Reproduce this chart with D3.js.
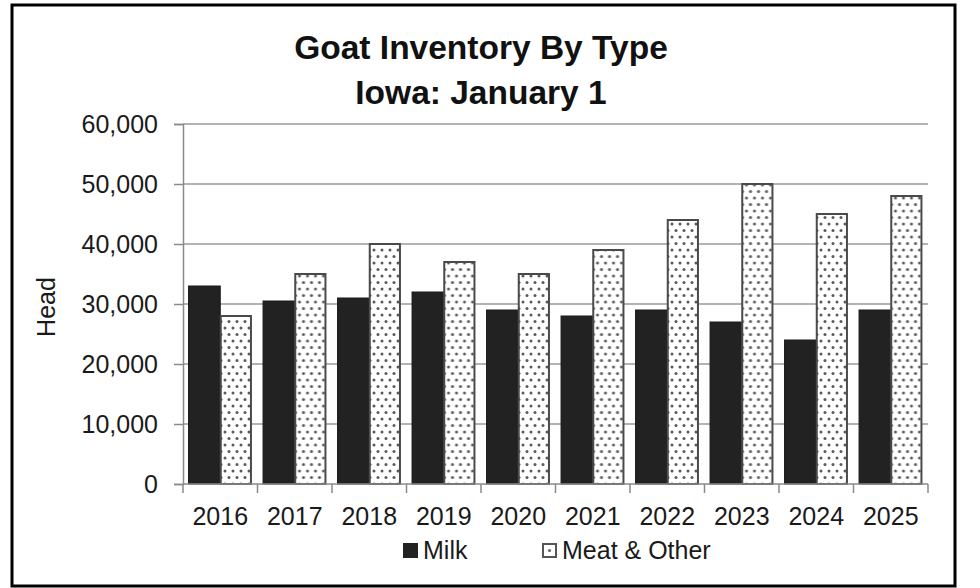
<!DOCTYPE html>
<html>
<head>
<meta charset="utf-8">
<script src="https://cdn.jsdelivr.net/npm/d3@7"></script>
<style>
  html, body { margin: 0; padding: 0; background: #fff; }
  svg { display: block; }
  text { font-family: "Liberation Sans", Arial, sans-serif; fill: #1a1a1a; }
</style>
</head>
<body>
<svg id="chart" width="980" height="588"></svg>
<script>
// Iowa goat inventory, January 1, by type (head)
const years = ["2016", "2017", "2018", "2019", "2020", "2021", "2022", "2023", "2024", "2025"];
const milk = [33000, 30500, 31000, 32000, 29000, 28000, 29000, 27000, 24000, 29000];
const meatOther = [28000, 35000, 40000, 37000, 35000, 39000, 44000, 50000, 45000, 48000];
const seriesNames = ["Milk", "Meat & Other"];
const yTicks = [0, 10000, 20000, 30000, 40000, 50000, 60000];
const titleLines = ["Goat Inventory By Type", "Iowa: January 1"];
const yAxisTitle = "Head";

const svg = d3.select("#chart");

// dotted fill for the "Meat & Other" bars
const defs = svg.append("defs");
const pat = defs.append("pattern")
  .attr("id", "dots")
  .attr("patternUnits", "userSpaceOnUse")
  .attr("width", 8).attr("height", 13);
pat.append("rect").attr("width", 8).attr("height", 13).attr("fill", "#fff");
pat.append("circle").attr("cx", 2).attr("cy", 3).attr("r", 1.5).attr("fill", "#5a5a5a");
pat.append("circle").attr("cx", 6).attr("cy", 9.5).attr("r", 1.5).attr("fill", "#5a5a5a");

// outer frame
svg.append("rect")
  .attr("x", 12).attr("y", 5).attr("width", 943).attr("height", 581)
  .attr("fill", "#fff").attr("stroke", "#000").attr("stroke-width", 3);

const plot = { left: 183, right: 928, top: 124, bottom: 484 };

const x = d3.scaleBand().domain(years).range([plot.left, plot.right]).paddingInner(0).paddingOuter(0);
const inner = d3.scaleBand().domain(seriesNames).range([0, x.bandwidth()]).paddingOuter(0.175).paddingInner(0);
const y = d3.scaleLinear().domain([0, 60000]).range([plot.bottom, plot.top]);

// title
svg.append("g").selectAll("text").data(titleLines).join("text")
  .attr("x", 481).attr("y", (d, i) => 59 + i * 45)
  .attr("text-anchor", "middle")
  .attr("font-size", 33.5).attr("font-weight", "bold")
  .style("fill", "#111")
  .text(d => d);

// horizontal gridlines
svg.append("g").selectAll("line").data(yTicks.filter(t => t > 0)).join("line")
  .attr("x1", plot.left).attr("x2", plot.right)
  .attr("y1", d => y(d)).attr("y2", d => y(d))
  .attr("stroke", "#9a9a9a").attr("stroke-width", 1.5);

// y axis
const yAxis = svg.append("g")
  .attr("transform", `translate(${plot.left},0)`)
  .call(d3.axisLeft(y).tickValues(yTicks).tickFormat(d3.format(",")).tickSize(9).tickPadding(16));
yAxis.select(".domain").attr("stroke", "#8a8a8a").attr("stroke-width", 1.5);
yAxis.selectAll(".tick line").attr("stroke", "#8a8a8a").attr("stroke-width", 1.5);
yAxis.selectAll(".tick text")
  .attr("font-size", 25).attr("font-family", "Liberation Sans, Arial, sans-serif")
  .style("fill", "#1a1a1a");

// y axis title
svg.append("text")
  .attr("transform", `translate(55,${(plot.top + plot.bottom) / 2 + 3}) rotate(-90)`)
  .attr("text-anchor", "middle")
  .attr("font-size", 25)
  .text(yAxisTitle);

// bars
const rows = years.map((yr, i) => ({ year: yr, values: [milk[i], meatOther[i]] }));
const groups = svg.append("g").selectAll("g").data(rows).join("g")
  .attr("transform", d => `translate(${x(d.year)},0)`);

groups.selectAll("rect")
  .data(d => d.values.map((v, k) => ({ key: seriesNames[k], value: v })))
  .join("rect")
  .attr("x", d => inner(d.key) + (d.key === "Milk" ? 0 : 0.5))
  .attr("width", d => inner.bandwidth() - (d.key === "Milk" ? 0 : 1.5))
  .attr("y", d => y(d.value))
  .attr("height", d => y(0) - y(d.value))
  .attr("fill", d => d.key === "Milk" ? "#222" : "url(#dots)")
  .attr("stroke", d => d.key === "Milk" ? "#1a1a1a" : "#4a4a4a")
  .attr("stroke-width", d => d.key === "Milk" ? 1 : 2);

// x axis with ticks between categories
const xAxisG = svg.append("g").attr("transform", `translate(0,${plot.bottom})`);
xAxisG.append("line")
  .attr("x1", plot.left).attr("x2", plot.right)
  .attr("stroke", "#8a8a8a").attr("stroke-width", 1.5);
const boundaries = years.map(yr => x(yr)).concat([x(years[years.length - 1]) + x.bandwidth()]);
xAxisG.selectAll("line.tk").data(boundaries).join("line")
  .attr("class", "tk")
  .attr("x1", d => d).attr("x2", d => d)
  .attr("y1", 0).attr("y2", 9)
  .attr("stroke", "#8a8a8a").attr("stroke-width", 1.5);
xAxisG.selectAll("text").data(years).join("text")
  .attr("x", d => x(d) + x.bandwidth() / 2)
  .attr("y", 41)
  .attr("text-anchor", "middle")
  .attr("font-size", 25)
  .text(d => d);

// legend
const legend = svg.append("g");
const legendItems = [
  { name: seriesNames[0], sx: 403, tx: 423 },
  { name: seriesNames[1], sx: 542, tx: 562 }
];
legendItems.forEach((it, i) => {
  if (i === 0) {
    legend.append("rect").attr("x", it.sx).attr("y", 543).attr("width", 15).attr("height", 15)
      .attr("fill", "#222");
  } else {
    legend.append("rect").attr("x", it.sx + 1).attr("y", 544).attr("width", 13).attr("height", 13)
      .attr("fill", "#fff").attr("stroke", "#555").attr("stroke-width", 2);
    legend.append("circle").attr("cx", it.sx + 7.5).attr("cy", 550.5).attr("r", 1.6).attr("fill", "#666");
  }
  legend.append("text").attr("x", it.tx).attr("y", 559)
    .attr("font-size", 25).text(it.name);
});
</script>
</body>
</html>
